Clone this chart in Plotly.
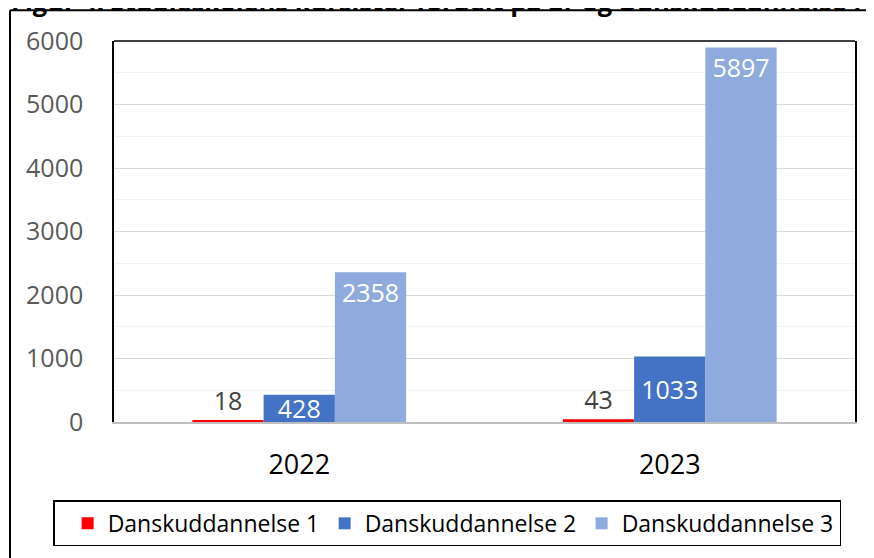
import plotly.graph_objects as go

years = ["2022", "2023"]
series_names = ["Danskuddannelse 1", "Danskuddannelse 2", "Danskuddannelse 3"]
du1 = [18, 43]
du2 = [428, 1033]
du3 = [2358, 5897]
colors = ["#FF0000", "#4472C4", "#8FAADC"]
title_text = "Figur 4. Studieskolens kursister fordelt på år og Danskuddannelse i"

FONT = "Open Sans"
OFF = 8                      # browser body margin
PW, PH = 874, 558            # page (window) size
W, H = PW - OFF, PH - OFF    # figure size
# plot area in page pixels
PL, PR, PT, PB = 114, 855, 41, 425
L, R, T, B = PL - OFF, PW - PR, PT - OFF, PH - PB
pw, ph = W - L - R, H - T - B

def px_x(x):  # page px -> paper x
    return (x - OFF - L) / pw

def px_y(y):  # page px -> paper y
    return (H - B - (y - OFF)) / ph

fig = go.Figure()
fig.add_trace(go.Bar(
    x=years, y=du1, name=series_names[0], marker_color=colors[0],
    text=du1, textposition="outside",
    textfont=dict(family=FONT, size=25, color="#404040"),
    cliponaxis=False,
))
fig.add_trace(go.Bar(
    x=years, y=du2, name=series_names[1], marker_color=colors[1],
    text=du2, textposition="inside", insidetextanchor="middle",
    textfont=dict(family=FONT, size=25, color="white"),
    constraintext="none",
))
fig.add_trace(go.Bar(
    x=years, y=du3, name=series_names[2], marker_color=colors[2],
    text=du3, textposition="inside", insidetextanchor="end",
    textfont=dict(family=FONT, size=25.5, color="white"),
    constraintext="none",
))

fig.update_traces(marker_line_width=0)

fig.update_layout(
    width=W, height=H,
    margin=dict(l=L, r=R, t=T, b=B, pad=0),
    paper_bgcolor="white", plot_bgcolor="white",
    barmode="group", bargap=0.423, bargroupgap=0,
    font=dict(family=FONT, color="#000000"),
    uniformtext=dict(minsize=25, mode="show"),
    showlegend=True,
    legend=dict(
        orientation="h", x=px_x(53), y=px_y(504), xanchor="left", yanchor="top",
        bordercolor="#000000", borderwidth=1.5, bgcolor="white",
        font=dict(family=FONT, size=23, color="#000000"),
        itemsizing="constant", entrywidth=212, entrywidthmode="pixels",
        tracegroupgap=0,
        title=dict(text="&nbsp;", side="left", font=dict(family=FONT, size=12)),
    ),
)

fig.update_yaxes(
    range=[0, 6000], dtick=1000, tick0=0,
    showgrid=True, gridcolor="#D9D9D9", gridwidth=1,
    minor=dict(dtick=500, showgrid=True, gridcolor="#F2F2F2", gridwidth=1),
    showline=True, linecolor="#000000", linewidth=1.5, mirror=True,
    zeroline=False,
    tickfont=dict(family=FONT, size=25, color="#595959"),
    ticks="", ticklabelstandoff=24,
    fixedrange=True,
)
fig.update_xaxes(
    showline=True, linecolor="#BFBFBF", linewidth=1.5,
    showgrid=False, ticks="",
    tickfont=dict(family=FONT, size=27, color="#000000"),
    ticklabelstandoff=18,
    fixedrange=True,
)

# top frame line of plot area
fig.add_shape(type="line", xref="paper", yref="paper", x0=0, x1=1, y0=1, y1=1,
              line=dict(color="#000000", width=1.5))
# outer chart frame: left and top edges (right/bottom lie outside the window)
fig.add_shape(type="line", xref="paper", yref="paper",
              x0=px_x(10), x1=px_x(PW + 20), y0=px_y(10), y1=px_y(10),
              line=dict(color="#000000", width=2), layer="below")
fig.add_shape(type="line", xref="paper", yref="paper",
              x0=px_x(10), x1=px_x(10), y0=px_y(10), y1=px_y(PH + 20),
              line=dict(color="#000000", width=2), layer="below")

# cropped title at top
fig.add_annotation(
    text="<b>" + title_text + "</b>", xref="paper", yref="paper",
    x=px_x(9), y=px_y(1), xanchor="left", yanchor="middle",
    showarrow=False, font=dict(family=FONT, size=25.5, color="#000000"),
)

fig.write_html("out.html")
